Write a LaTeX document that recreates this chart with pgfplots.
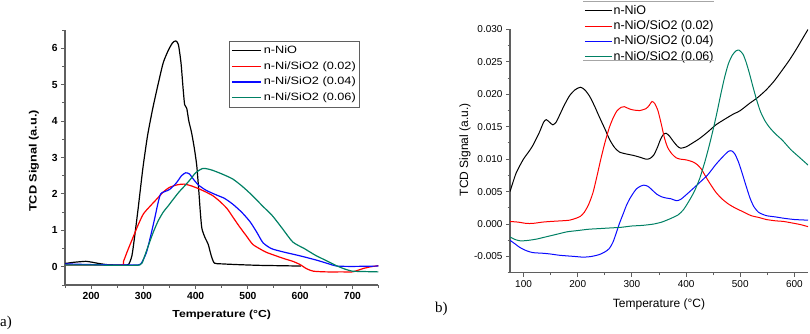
\documentclass[border=0pt]{standalone}
\usepackage{fontspec}
\setmainfont{Liberation Sans}
\newfontfamily\serifx{Liberation Serif}
\newfontfamily\widesans[FakeStretch=1.2]{Liberation Sans}
\usepackage{pgfplots}
\pgfplotsset{compat=1.18}
\definecolor{cgreen}{RGB}{0,128,100}
\definecolor{cred}{RGB}{255,0,0}
\definecolor{cblue}{RGB}{10,10,255}
\definecolor{axgray}{RGB}{95,95,95}
\pgfplotsset{
  common/.style={
    scale only axis, anchor=south west,
    axis lines=left, axis line style={-, axgray, line width=1.2bp},
    tick align=outside, major tick length=4bp, minor tick length=2.5bp,
    every tick/.style={axgray, line width=1bp},
    /pgf/number format/assume math mode=true,
    clip=true,
    legend cell align=left,
  }
}
\begin{document}
\begin{tikzpicture}
\useasboundingbox (0,0) rectangle (810bp,334bp);
\begin{axis}[common,
  at={(65bp,49bp)}, width=313.5bp, height=255bp,
  xmin=150, xmax=750, ymin=-0.5, ymax=6.5,
  xtick={200,300,...,700}, minor xtick={150,250,...,750},
  ytick={0,1,...,6}, minor ytick={-0.5,0.5,...,6.5},
  tick label style={font=\bfseries\fontsize{10.3bp}{12bp}\selectfont},
  xlabel={Temperature (°C)}, ylabel={TCD Signal (a.u.)},
  xlabel style={font=\widesans\bfseries\fontsize{10.2bp}{12bp}\selectfont, at={(axis description cs:0.5,-0.118)}, anchor=center},
  ylabel style={font=\widesans\bfseries\fontsize{10.6bp}{12bp}\selectfont, at={(axis description cs:-0.099,0.486)}, anchor=center},
  legend style={at={(0.524,0.958)}, anchor=north west, draw=axgray, line width=0.8bp,
    font=\widesans\fontsize{10.6bp}{12bp}\selectfont, inner sep=1.5bp,
    nodes={inner sep=2.4bp, text height=8.3bp, text depth=2.6bp}},
  legend image code/.code={\draw[line width=1.3bp, #1] (0bp,0bp) -- (29bp,0bp);},
  every axis plot/.append style={line width=1.2bp, smooth, tension=0.4},
]
\addplot[black] coordinates {(150,0.09) (165,0.12) (180,0.14) (190,0.15) (200,0.13) (215,0.09) (230,0.06) (250,0.05) (265,0.05) (272,0.07) (278,0.3) (283,0.8) (290,1.6) (299,2.7) (308,3.6) (318,4.35) (328,5.0) (338,5.6) (348,5.95) (356,6.15) (362,6.2) (367,6.1) (372,5.6) (376,4.9) (379,4.45) (383,4.35) (387,4.0) (392,3.7) (397,3.3) (402,2.8) (406,2.1) (409,1.5) (412,1.05) (418,0.8) (424,0.62) (430,0.3) (436,0.1) (450,0.08) (480,0.06) (520,0.04) (560,0.03) (602,0.02)};
\addplot[cred] coordinates {(150,0.05) (200,0.05) (258,0.05) (262,0.15) (270,0.45) (280,0.8) (290,1.15) (300,1.45) (312,1.65) (325,1.85) (338,2.05) (350,2.18) (365,2.25) (378,2.27) (392,2.22) (408,2.13) (420,2.05) (433,1.95) (446,1.8) (460,1.6) (472,1.35) (484,1.1) (497,0.85) (509,0.62) (522,0.5) (535,0.4) (550,0.32) (570,0.22) (586,0.15) (600,0.06) (612,-0.05) (625,-0.12) (650,-0.14) (680,-0.14) (700,-0.14) (710,-0.1) (720,-0.05) (735,0.0) (750,0.03)};
\addplot[cblue] coordinates {(150,0.08) (200,0.06) (250,0.05) (290,0.05) (297,0.12) (306,0.4) (314,0.85) (322,1.35) (328,1.75) (333,2.0) (340,2.06) (350,2.12) (363,2.3) (373,2.5) (381,2.58) (388,2.55) (396,2.4) (405,2.25) (420,2.1) (440,1.97) (455,1.88) (471,1.72) (488,1.5) (504,1.24) (517,0.95) (529,0.66) (545,0.5) (567,0.41) (600,0.3) (632,0.18) (655,0.08) (670,0.02) (700,0.01) (750,0.02)};
\addplot[cgreen] coordinates {(150,0.05) (200,0.05) (250,0.04) (293,0.05) (300,0.2) (310,0.6) (319,0.95) (328,1.25) (338,1.5) (348,1.68) (357,1.85) (368,2.05) (379,2.22) (390,2.4) (400,2.58) (414,2.7) (430,2.66) (450,2.55) (471,2.41) (490,2.2) (509,1.95) (528,1.67) (547,1.4) (566,1.05) (586,0.68) (608,0.5) (630,0.31) (650,0.17) (668,0.04) (685,-0.06) (700,-0.12) (720,-0.13) (750,-0.14)};
\legend{n-NiO, n-Ni/SiO2 (0.02), n-Ni/SiO2 (0.04), n-Ni/SiO2 (0.06)}
\end{axis}
\begin{axis}[common,
  at={(510bp,61.3bp)}, width=298bp, height=243.2bp,
  xmin=75, xmax=625, ymin=-0.0075, ymax=0.030,
  xtick={100,200,...,600}, minor xtick={150,250,...,550},
  ytick={-0.005,0,0.005,0.010,0.015,0.020,0.025,0.030},
  minor ytick={-0.0075,-0.0025,0.0025,0.0075,0.0125,0.0175,0.0225,0.0275},
  scaled y ticks=false,
  yticklabel style={/pgf/number format/.cd, fixed, fixed zerofill, precision=3},
  tick label style={font=\fontsize{10bp}{12bp}\selectfont},
  xlabel={Temperature (°C)}, ylabel={TCD Signal (a.u.)},
  xlabel style={font=\fontsize{12bp}{14bp}\selectfont, at={(axis description cs:0.5,-0.129)}, anchor=center},
  ylabel style={font=\fontsize{12bp}{14bp}\selectfont, at={(axis description cs:-0.151,0.505)}, anchor=center},
  legend style={at={(0.245,1.114)}, anchor=north west, draw=none, fill=none,
    font=\fontsize{12.5bp}{14bp}\selectfont, inner sep=1bp,
    nodes={inner sep=1.25bp, text height=9.8bp, text depth=3.1bp}},
  legend image code/.code={\draw[line width=1.1bp, #1] (0bp,0bp) -- (27bp,0bp);},
  every axis plot/.append style={line width=1bp, smooth, tension=0.4},
]
\addplot[black] coordinates {(75,0.0050) (86,0.0078) (99,0.0099) (110,0.0112) (117,0.0121) (129,0.0141) (137,0.0157) (142,0.0161) (148,0.0157) (154,0.0153) (160,0.0157) (166,0.0167) (175,0.0183) (185,0.0198) (195,0.0207) (205,0.0211) (213,0.0207) (222,0.0197) (231,0.0182) (240,0.0165) (250,0.0147) (259,0.0130) (268,0.0118) (277,0.0111) (290,0.0108) (302,0.0106) (315,0.0103) (326,0.0100) (333,0.0101) (340,0.0106) (347,0.0118) (353,0.0131) (358,0.0138) (363,0.0140) (369,0.0136) (376,0.0128) (384,0.0120) (390,0.0117) (400,0.0119) (412,0.0125) (425,0.0132) (440,0.0142) (455,0.0153) (470,0.0161) (486,0.0169) (500,0.0175) (517,0.0186) (532,0.0195) (548,0.0207) (563,0.0221) (578,0.0238) (590,0.0252) (603,0.0269) (615,0.0286) (625,0.0300)};
\addplot[cred] coordinates {(75,0.0004) (90,0.0003) (105,0.0001) (117,0.0001) (135,0.0003) (150,0.0004) (170,0.0005) (185,0.0006) (197,0.0009) (205,0.0012) (212,0.0018) (220,0.0030) (228,0.0048) (235,0.0072) (242,0.0098) (250,0.0125) (258,0.0148) (265,0.0163) (272,0.0174) (280,0.0180) (286,0.0181) (294,0.0178) (302,0.0176) (314,0.0175) (326,0.0178) (332,0.0183) (337,0.0189) (342,0.0186) (348,0.0175) (354,0.0155) (360,0.0133) (366,0.0118) (374,0.0108) (382,0.0102) (390,0.0100) (400,0.0099) (412,0.0096) (420,0.0092) (428,0.0085) (437,0.0072) (446,0.0060) (455,0.0049) (466,0.0039) (478,0.0031) (490,0.0025) (505,0.0019) (520,0.0013) (535,0.0010) (548,0.0007) (565,0.0005) (580,0.0004) (600,0.0001) (612,-0.0001) (625,-0.0004)};
\addplot[cblue] coordinates {(75,-0.0025) (85,-0.0031) (93,-0.0036) (105,-0.0041) (117,-0.0044) (135,-0.0045) (148,-0.0046) (165,-0.0048) (179,-0.0049) (195,-0.0050) (210,-0.0051) (225,-0.0050) (240,-0.0047) (250,-0.0043) (258,-0.0038) (265,-0.0028) (271,-0.0014) (277,0.0001) (284,0.0016) (290,0.0029) (296,0.0039) (302,0.0047) (308,0.0054) (315,0.0058) (322,0.0060) (330,0.0058) (338,0.0052) (346,0.0046) (355,0.0042) (364,0.0040) (372,0.0039) (382,0.0036) (390,0.0038) (400,0.0045) (412,0.0054) (425,0.0064) (440,0.0076) (455,0.0092) (468,0.0104) (478,0.0112) (484,0.0113) (490,0.0108) (497,0.0095) (504,0.0077) (511,0.0058) (518,0.0040) (525,0.0027) (534,0.0018) (548,0.0013) (565,0.0011) (580,0.0009) (600,0.0007) (625,0.0006)};
\addplot[cgreen] coordinates {(75,-0.0020) (85,-0.0024) (95,-0.0026) (110,-0.0025) (125,-0.0023) (140,-0.0020) (160,-0.0016) (180,-0.0012) (200,-0.0010) (220,-0.0008) (240,-0.0007) (260,-0.0006) (280,-0.0005) (300,-0.0003) (320,-0.0002) (340,0.0000) (355,0.0003) (370,0.0008) (385,0.0014) (395,0.0022) (405,0.0035) (415,0.0050) (425,0.0070) (435,0.0097) (443,0.0122) (450,0.0146) (457,0.0172) (464,0.0200) (471,0.0226) (478,0.0247) (485,0.0260) (492,0.0267) (498,0.0268) (505,0.0262) (511,0.0249) (517,0.0232) (523,0.0213) (530,0.0192) (537,0.0174) (545,0.0160) (554,0.0149) (565,0.0139) (578,0.0129) (593,0.0115) (609,0.0103) (625,0.0091)};
\legend{n-NiO, n-NiO/SiO2 (0.02), n-NiO/SiO2 (0.04), n-NiO/SiO2 (0.06)}
\end{axis}
\draw[gray!70, line width=1.2bp] (583bp,332.3bp) -- (714bp,332.3bp);
\draw[gray!70, line width=1.2bp] (583bp,273.3bp) -- (714bp,273.3bp);
\node[anchor=west, font=\serifx\fontsize{15bp}{17bp}\selectfont, inner sep=0pt] at (0bp,11.3bp) {a)};
\node[anchor=west, font=\serifx\fontsize{15bp}{17bp}\selectfont, inner sep=0pt] at (435bp,25bp) {b)};
\end{tikzpicture}
\end{document}
